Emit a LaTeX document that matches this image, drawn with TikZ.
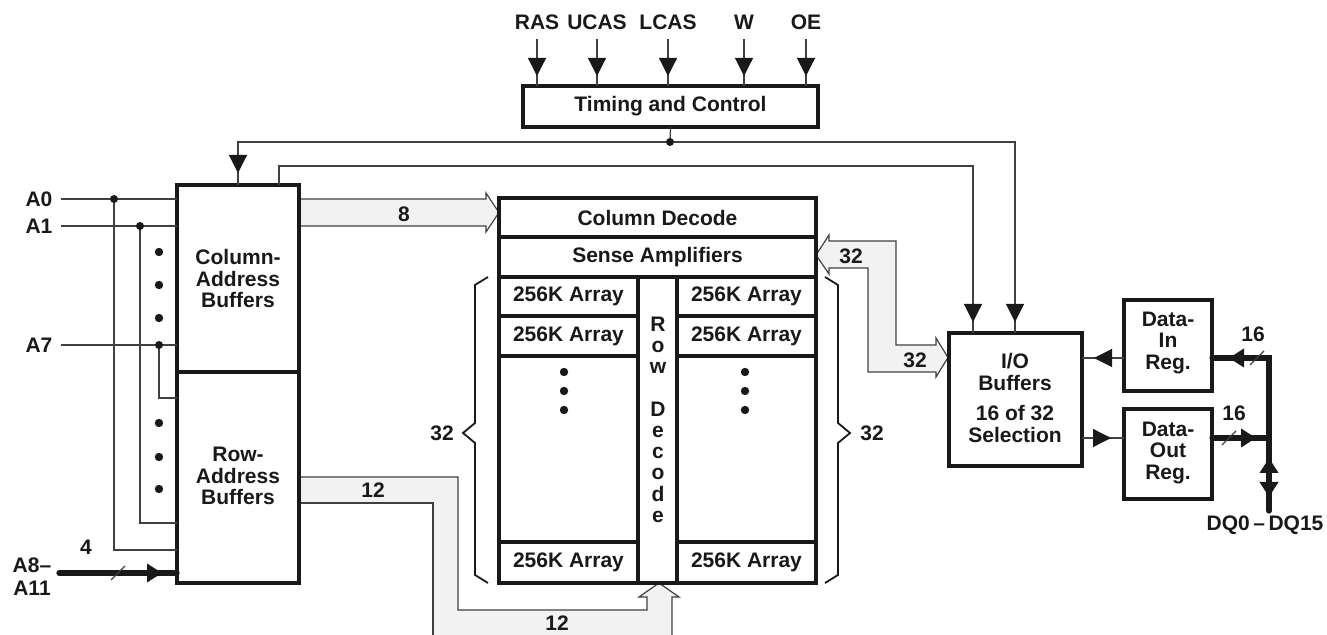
\documentclass[tikz,border=0pt]{standalone}
\usepackage{fontspec}
\setmainfont{Liberation Sans}
\usetikzlibrary{arrows.meta,decorations.markings,fit}
\begin{document}
\begin{tikzpicture}[x=0.5pt,y=-0.5pt,
  every node/.style={font=\fontsize{10.5}{10.75}\selectfont\bfseries, inner sep=0pt, outer sep=0pt, text=black!90},
  blk/.style={draw=black!90, line width=1.6pt},
  txt/.style={align=center},
  ln/.style={line width=0.6pt, draw=black!75},
  bus/.style={draw=black!75, line width=0.6pt, fill=black!5, line join=miter},
  tb/.style={line width=2.6pt, line cap=round, draw=black!90},
  brc/.style={line width=0.9pt, draw=black!90},
  dotf/.style={fill=black!90},
  tipthin/.tip={Triangle[length=9pt,width=9pt]},
  tipthick/.tip={Triangle[length=7.5pt,width=9pt]},
  ea/.style={postaction={decorate}, decoration={markings, mark=at position -#1 with {\arrow[black!90]{tipthin}}}},
  eat/.style={postaction={decorate}, decoration={markings, mark=at position -#1 with {\arrow[black!90]{tipthick}}}},
]
\useasboundingbox (0,0) rectangle (1327,635);

% ---------- buses (wide arrows) ----------
\draw[bus] (299,199) -- (486,199) -- (486,193) -- (499,212.5) -- (486,232) -- (486,226) -- (299,226);
\draw[bus] (816,255) -- (829,235) -- (829,241) -- (896,241) -- (896,345) -- (936,345) -- (936,338)
  -- (948,357.5) -- (936,377) -- (936,372) -- (868,372) -- (868,268) -- (829,268) -- (829,274) -- cycle;
\fill[black!5] (299,477) -- (458,477) -- (458,610) -- (647,610) -- (647,597) -- (639,597) -- (659,583)
  -- (679,597) -- (672,597) -- (672,645) -- (433,645) -- (433,503) -- (299,503) -- cycle;
\draw[ln] (299,477) -- (458,477) -- (458,610) -- (647,610) -- (647,597) -- (639,597) -- (659,583)
  -- (679,597) -- (672,597) -- (672,645);
\draw[ln] (299,503) -- (433,503) -- (433,645);

% ---------- blocks ----------
\node[blk, fit={(523,86) (818,127)}] (tc) {};
\node[blk, fit={(177,185) (299,372)}] (colb) {};
\node[blk, fit={(177,372) (299,583)}] (rowb) {};
\node[blk, fit={(499,198) (816,237)}] (cd) {};
\node[blk, fit={(499,237) (816,277)}] (sa) {};
\node[blk, fit={(499,277) (638,316)}] (l1) {};
\node[blk, fit={(499,316) (638,356)}] (l2) {};
\node[blk, fit={(499,356) (638,542)}] (lm) {};
\node[blk, fit={(499,542) (638,583)}] (l3) {};
\node[blk, fit={(638,277) (677,583)}] (rd) {};
\node[blk, fit={(677,277) (816,316)}] (r1) {};
\node[blk, fit={(677,316) (816,356)}] (r2) {};
\node[blk, fit={(677,356) (816,542)}] (rm) {};
\node[blk, fit={(677,542) (816,583)}] (r3) {};
\node[blk, fit={(949,333) (1082,466)}] (io) {};
\node[blk, fit={(1124,300) (1212,391)}] (din) {};
\node[blk, fit={(1124,409) (1212,499)}] (dout) {};

\node[txt] (tct) at (tc) {Timing and Control};
\node[txt] (colbt) at (colb) {Column-\\Address\\Buffers};
\node[txt] (rowbt) at (238,476) {Row-\\Address\\Buffers};
\node[txt] (cdt) at (cd) {Column Decode};
\node[txt] (sat) at (sa) {Sense Amplifiers};
\foreach \b in {l1,l2,l3,r1,r2,r3} \node[txt] (\b t) at (\b) {256K Array};
\node[txt, font=\fontsize{10.5}{11}\selectfont\bfseries] (iot) at (1015,398) {I/O\\Buffers\\[4pt]16 of 32\\Selection};
\node[txt] (dint) at (1168,343) {Data-\\In\\Reg.};
\node[txt] (doutt) at (1168,453) {Data-\\Out\\Reg.};

% Row decode letters
\foreach \c/\yy [count=\i] in {R/332, o/353, w/374, D/417, e/438, c/459, o/480, d/502, e/523}
  \node[anchor=base] (rdl\i) at (658,\yy) {\c};

% dots in arrays
\foreach \xx in {564,745} \foreach \yy in {372,391,410} \fill[dotf] (\xx,\yy) circle (2.1pt);

% bus labels
\node (lb8) at (404,214) {8};
\node (lb32a) at (851,256) {32};
\node (lb32b) at (915,360) {32};
\node (lb12a) at (373,490) {12};
\node (lb12b) at (557,623) {12};

% braces
\draw[brc] (488,277) -- (475,285) -- (475,423) -- (463,433) -- (475,443) -- (475,575) -- (488,583);
\draw[brc] (825,277) -- (838,285) -- (838,423) -- (850,433) -- (838,443) -- (838,575) -- (825,583);
\node (b32l) at (442,433) {32};
\node (b32r) at (872,433) {32};

% ---------- control inputs ----------
\foreach \n/\t/\xx in {ras/RAS/537, ucas/UCAS/597, lcas/LCAS/668, w/W/744, oe/OE/806} {
  \node (\n) at (\xx,22) {\t};
  \draw[ln, ea=5pt] ([yshift=-5pt]\n.south) -- (\n.south |- tc.north);
}

% ---------- control wires ----------
\coordinate (j) at (670,142);
\coordinate (k1) at (238,142);
\coordinate (k2) at (1015,142);
\coordinate (k3) at (279,166);
\coordinate (k4) at (973,166);
\draw[ln] (tc.south) -- (j);
\draw[ln, ea=6pt] (j) -- (k1) -- (k1 |- colb.north);
\draw[ln, ea=5.5pt] (j) -- (k2) -- (k2 |- io.north);
\draw[ln, ea=5.5pt] (k3 |- colb.north) -- (k3) -- (k4) -- (k4 |- io.north);
\fill[dotf] (j) circle (2pt);

% ---------- address inputs ----------
\foreach \n/\t/\yy in {a0/A0/199, a1/A1/226, a7/A7/345} {
  \node (\n) at (39,\yy) {\t};
  \draw[ln] (61,\yy) -- (61,\yy -| colb.west);
}
\draw[ln] (114,199) -- (114,550) -- (114,550 -| rowb.west);
\draw[ln] (140,226) -- (140,523) -- (140,523 -| rowb.west);
\draw[ln] (159,345) -- (159,398) -- (159,398 -| rowb.west);
\foreach \xx/\yy in {114/199, 140/226, 159/345} \fill[dotf] (\xx,\yy) circle (2pt);
\foreach \yy in {252,285,318,423,457,489} \fill[dotf] (159,\yy) circle (2.1pt);

\node[align=center, font=\fontsize{10.5}{11.5}\selectfont\bfseries] (a8) at (32,577) {A8–\\A11};
\node (n4) at (86,547) {4};
\coordinate (a8s) at (59,573);
\draw[tb, eat=7.5pt] (a8s) -- (a8s -| rowb.west);
\draw[ln] (118,573) ++(-7,7) -- ++(14,-14);

% ---------- data path ----------
\draw[ln, ea=6pt] (din.west |- 0,358) -- (io.east |- 0,358);
\draw[ln, ea=6.5pt] (io.east |- 0,438) -- (dout.west |- 0,438);

\coordinate (jin) at (1269,358);
\coordinate (jout) at (1269,438);
\coordinate (dq) at (1269,511);
\draw[tb, postaction={decorate}, decoration={markings,
   mark=at position 7pt with {\arrowreversed[black!90]{tipthick}},
   mark=at position 26.5pt with {\arrow[black!90]{tipthick}},
   mark=at position -8.5pt with {\arrow[black!90]{tipthick}}}]
   (dq) -- (jin) -- (din.east |- jin);
\draw[tb, eat=6.5pt] (dout.east |- jout) -- (jout);
\draw[ln] (1257,358) ++(-7,7) -- ++(14,-14);
\draw[ln] (1229,438) ++(-7,7) -- ++(14,-14);
\node (n16a) at (1253,334) {16};
\node (n16b) at (1234,413) {16};
\node (dql) at (1265,525) {DQ0\,–\,DQ15};
\end{tikzpicture}
\end{document}
